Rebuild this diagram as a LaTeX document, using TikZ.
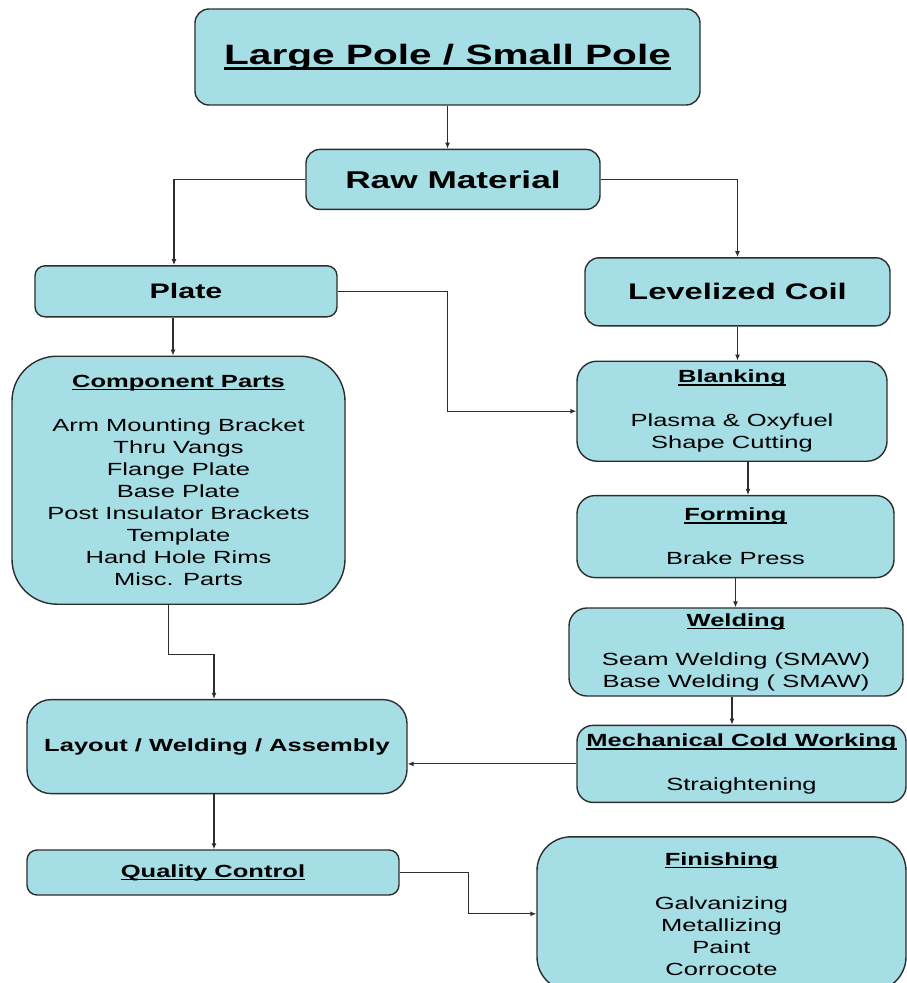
\documentclass[tikz,border=0pt]{standalone}
\usepackage{fontspec}
\setmainfont[FakeStretch=1.45]{Liberation Sans}
\usetikzlibrary{positioning, arrows.meta}
\definecolor{stagefill}{RGB}{166,222,229}
\definecolor{edgegray}{RGB}{45,45,45}
\newcommand{\ulbar}[2][1.6pt]{\setbox0\hbox{#2}\leavevmode\rlap{\rule[\dimexpr-0.09em-#1\relax]{\wd0}{#1}}\box0}
\tikzstyle{stage} = [
    rectangle, draw=edgegray, line width=1.4pt, fill=stagefill,
    rounded corners=14pt, inner sep=2pt,
    align=center, font=\fontsize{17.6}{22}\selectfont % body text of the boxes
]
\tikzstyle{flow} = [-{Latex[length=6pt, width=5pt]}, draw=edgegray, line width=1.1pt]

\begin{document}
\begin{tikzpicture}
        \useasboundingbox (0,0) rectangle (907pt,-983pt);

        % Stages, top
        \node[stage, minimum width=505pt, minimum height=96pt, font=\fontsize{28}{32}\selectfont\bfseries] (poles) at (447.5pt,-57pt) {
            \ulbar[3pt]{Large Pole / Small Pole}
        };
        \node[stage, minimum width=294pt, minimum height=60pt, font=\fontsize{24.3}{28}\selectfont\bfseries] (raw) [below=43pt of poles, xshift=5.5pt] {Raw Material};
        \node[stage, minimum width=302pt, minimum height=51pt, rounded corners=10pt, font=\fontsize{21}{25}\selectfont\bfseries] (plate) [below=55pt of raw, xshift=-267pt] {Plate};
        \node[stage, minimum width=305pt, minimum height=68pt, font=\fontsize{22.6}{26}\selectfont\bfseries] (coil) [below=47pt of raw, xshift=284.5pt] {Levelized Coil};

        % Left column
        \node[stage, minimum width=333pt, minimum height=248pt, rounded corners=45pt] (parts) [below=38pt of plate, xshift=-7.5pt] {
            \ulbar{\textbf{Component Parts}} \\[22pt]
            Arm Mounting Bracket \\
            Thru Vangs \\
            Flange Plate \\
            Base Plate \\
            Post Insulator Brackets \\
            Template \\
            Hand Hole Rims \\
            Misc. Parts
        };
        \node[stage, minimum width=380pt, minimum height=94pt, rounded corners=24pt, font=\fontsize{17.6}{22}\selectfont\bfseries] (layout) [below=94pt of parts, xshift=38.5pt] {Layout / Welding / Assembly};
        \node[stage, minimum width=372pt, minimum height=45pt, rounded corners=10pt] (quality) [below=55pt of layout, xshift=-4pt] {
            \ulbar{\textbf{Quality Control}}
        };

        % Right column
        \node[stage, minimum width=310pt, minimum height=100pt, rounded corners=20pt] (blanking) [below=34pt of coil, xshift=-5.5pt] {
            \ulbar{\textbf{Blanking}} \\[22pt]
            Plasma \& Oxyfuel \\
            Shape Cutting
        };
        \node[stage, minimum width=317pt, minimum height=82pt, rounded corners=18pt] (forming) [below=33pt of blanking, xshift=3.5pt] {
            \ulbar{\textbf{Forming}} \\[22pt]
            Brake Press
        };
        \node[stage, minimum width=334pt, minimum height=88pt, rounded corners=18pt] (welding) [below=29pt of forming, xshift=0.5pt] {
            \ulbar{\textbf{Welding}} \\[17pt]
            Seam Welding (SMAW) \\
            Base Welding ( SMAW)
        };
        \node[stage, minimum width=329pt, minimum height=77pt, rounded corners=16pt] (coldwork) [below=28pt of welding, xshift=5.5pt] {
            \ulbar{\textbf{Mechanical Cold Working}} \\[22pt]
            Straightening
        };
        \node[stage, minimum width=369pt, minimum height=154pt, rounded corners=34pt] (finishing) [below=33pt of coldwork, xshift=-20pt] {
            \ulbar{\textbf{Finishing}} \\[22pt]
            Galvanizing \\
            Metallizing \\
            Paint \\
            Corrocote
        };

        % Flow between stages
        \draw[flow] (poles.south) -- (poles.south |- raw.north);
        \draw[flow] (raw.west) -| ([xshift=-12pt]plate.north);
        \draw[flow] (raw.east) -| (coil.north);
        \draw[flow] ([xshift=-13pt]plate.south) -- ([xshift=-13pt]plate.south |- parts.north);
        \draw[flow] (plate.east) -- (plate.east -| poles.south) |- (blanking.west);
        \draw[flow] (coil.south) -- (coil.south |- blanking.north);
        \draw[flow] ([xshift=16pt]blanking.south) -- ([xshift=16pt]blanking.south |- forming.north);
        \draw[flow] (forming.south) -- (forming.south |- welding.north);
        \draw[flow] ([xshift=-4pt]welding.south) -- ([xshift=-4pt]welding.south |- coldwork.north);
        \draw[flow] (coldwork.west) -- (coldwork.west -| layout.east);
        \draw[flow] ([xshift=-10pt]parts.south) -- ++(0,-50pt) -| ([xshift=-3pt]layout.north);
        \draw[flow] ([xshift=-3pt]layout.south) -- ([xshift=-3pt]layout.south |- quality.north);
        \draw[flow] (quality.east) -- ++(69pt,0) |- (finishing.west);

    \end{tikzpicture}
\end{document}
